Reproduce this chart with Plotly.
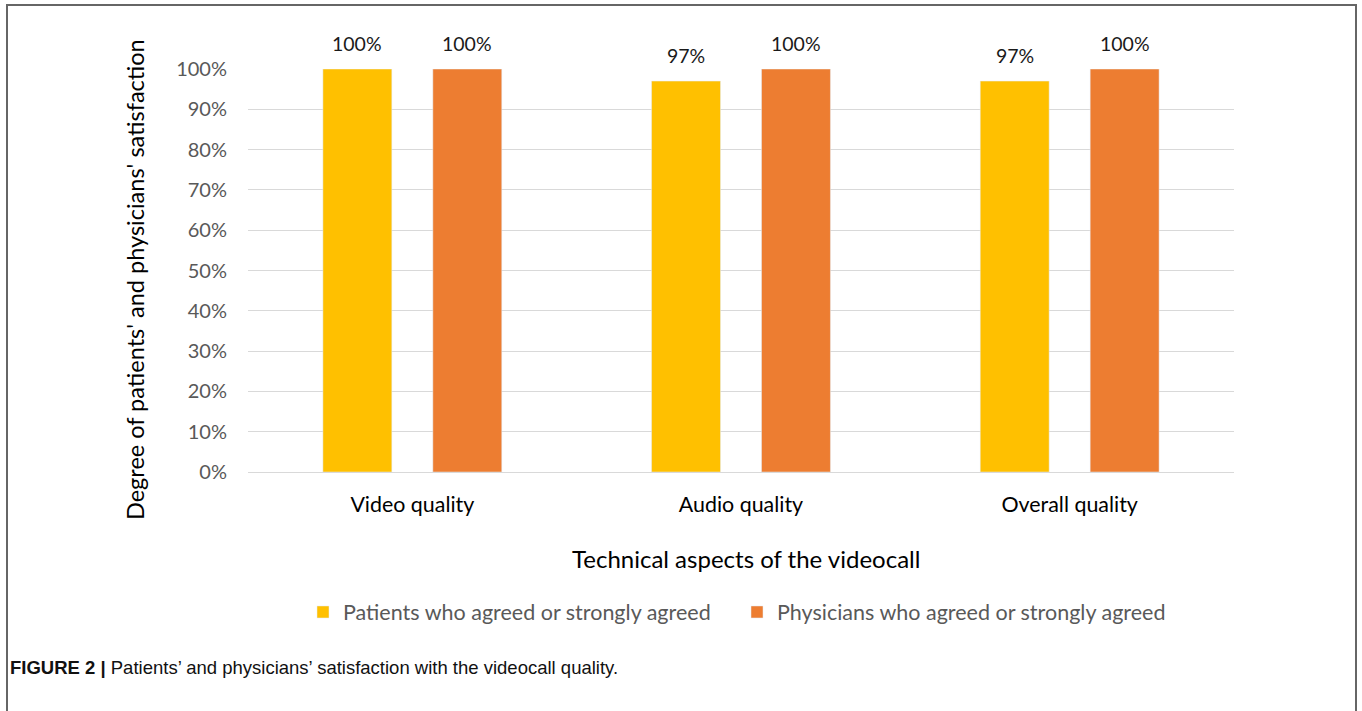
import plotly.graph_objects as go

categories = ["Video quality", "Audio quality", "Overall quality"]
patients = [1.00, 0.97, 0.97]
physicians = [1.00, 1.00, 1.00]
series_names = ["Patients who agreed or strongly agreed", "Physicians who agreed or strongly agreed"]
tick_vals = [0, 0.1, 0.2, 0.3, 0.4, 0.5, 0.6, 0.7, 0.8, 0.9, 1.0]
tick_text = ["0%", "10%", "20%", "30%", "40%", "50%", "60%", "70%", "80%", "90%", "100%"]

W, H = 1362, 711
L, R, T, B = 248, 1234, 69, 472
FONT = "Lato, Carlito, Calibri, sans-serif"

def px(x):
    return (x - L) / (R - L)

def py(y):
    return (B - y) / (B - T)

fig = go.Figure()
fig.add_trace(go.Bar(x=categories, y=patients, name=series_names[0], marker_color="#FFC000"))
fig.add_trace(go.Bar(x=categories, y=physicians, name=series_names[1], marker_color="#ED7D31"))

annotations = []
for vals, shift in ((patients, -55), (physicians, 55)):
    for c, v in zip(categories, vals):
        annotations.append(dict(x=c, y=v, xref="x", yref="y", text=f"{round(v*100)}%",
                                showarrow=False, xshift=shift, yshift=26, yanchor="middle",
                                font=dict(family=FONT, size=19.5, color="#1a1a1a")))

annotations.append(dict(x=px(135), y=py(280), xref="paper", yref="paper", textangle=-90,
                        text="Degree of patients' and physicians' satisfaction", showarrow=False,
                        xanchor="center", yanchor="middle",
                        font=dict(family=FONT, size=23.5, color="#000000")))
annotations.append(dict(x=px(746), y=py(558), xref="paper", yref="paper",
                        text="Technical aspects of the videocall", showarrow=False,
                        xanchor="center", yanchor="middle",
                        font=dict(family=FONT, size=24, color="#000000")))
annotations.append(dict(x=px(8), y=py(667), xref="paper", yref="paper",
                        text="<b>FIGURE 2 |</b> Patients\u2019 and physicians\u2019 satisfaction with the videocall quality.",
                        showarrow=False, xanchor="left", yanchor="middle",
                        font=dict(family="Liberation Sans Narrow, Arial Narrow, Liberation Sans, sans-serif",
                                  size=18.5, color="#111111")))

fig.update_layout(
    width=W, height=H,
    margin=dict(l=L, r=W - R, t=T, b=H - B, pad=0),
    paper_bgcolor="white", plot_bgcolor="white",
    barmode="group", bargap=0.331, bargroupgap=0.373,
    showlegend=True,
    legend=dict(orientation="h", x=px(737), y=py(612), xanchor="center", yanchor="middle",
                font=dict(family=FONT, size=21.5, color="#595959"), itemwidth=30,
                entrywidth=389, entrywidthmode="pixels", traceorder="normal"),
    annotations=annotations,
    shapes=[dict(type="rect", xref="paper", yref="paper", x0=px(7), x1=px(1356),
                 y0=py(760), y1=py(5), line=dict(color="#666666", width=2), fillcolor="rgba(0,0,0,0)")],
    font=dict(family=FONT),
)
fig.update_xaxes(showline=True, linecolor="#D9D9D9", linewidth=1, tickfont=dict(family=FONT, size=21.4, color="#000000"),
                 ticklabelstandoff=13, showgrid=False)
fig.update_yaxes(range=[0, 1], tickvals=tick_vals, ticktext=tick_text, showgrid=True, gridcolor="#D9D9D9",
                 gridwidth=1, zeroline=False, tickfont=dict(family=FONT, size=20, color="#595959"),
                 ticklabelstandoff=20)

fig.write_html("out.html")
